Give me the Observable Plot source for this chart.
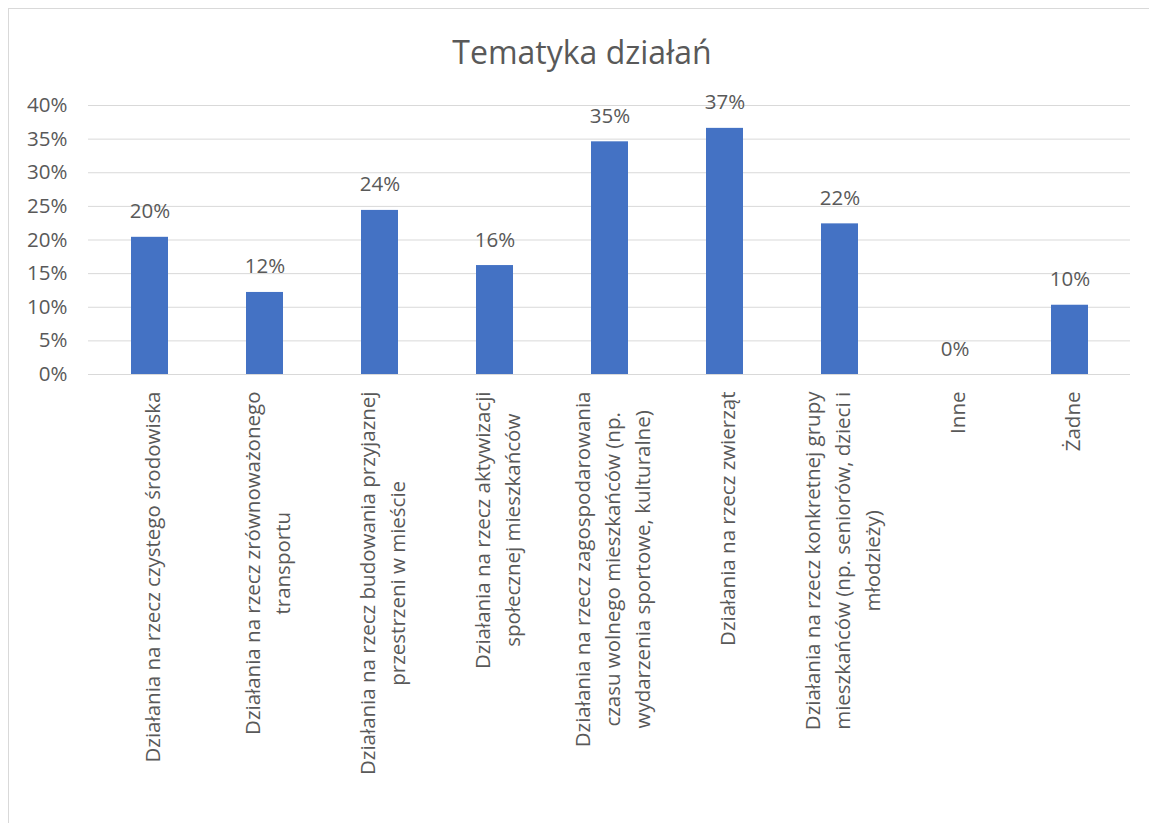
<!DOCTYPE html>
<html>
<head>
<meta charset="utf-8">
<script src="https://cdn.jsdelivr.net/npm/d3@7"></script>
<script src="https://cdn.jsdelivr.net/npm/@observablehq/plot@0.6"></script>
<style>
  html, body { margin: 0; padding: 0; background: #fff; overflow: hidden; }
  #frame {
    position: absolute; left: 8px; top: 8px; width: 1160px; height: 840px;
    border: 1px solid #d9d9d9; box-sizing: border-box; background: #fff;
    font-family: "Open Sans", sans-serif;
  }
  #title {
    height: 76px; box-sizing: border-box; padding-top: 27px;
    text-align: center; font-size: 32px; line-height: 1; color: #595959;
    padding-right: 12px;
  }
  #chart svg { display: block; }
</style>
</head>
<body>
<div id="frame">
  <div id="title">Tematyka działań</div>
  <div id="chart"></div>
</div>
<script>
const categories = [
  "Działania na rzecz czystego środowiska",
  "Działania na rzecz zrównoważonego transportu",
  "Działania na rzecz budowania przyjaznej przestrzeni w mieście",
  "Działania na rzecz aktywizacji społecznej mieszkańców",
  "Działania na rzecz zagospodarowania czasu wolnego mieszkańców (np. wydarzenia sportowe, kulturalne)",
  "Działania na rzecz zwierząt",
  "Działania na rzecz konkretnej grupy mieszkańców (np. seniorów, dzieci i młodzieży)",
  "Inne",
  "Żadne"
];
const categoryLines = [
  "Działania na rzecz czystego środowiska",
  "Działania na rzecz zrównoważonego\ntransportu",
  "Działania na rzecz budowania przyjaznej\nprzestrzeni w mieście",
  "Działania na rzecz aktywizacji\nspołecznej mieszkańców",
  "Działania na rzecz zagospodarowania\nczasu wolnego mieszkańców (np.\nwydarzenia sportowe, kulturalne)",
  "Działania na rzecz zwierząt",
  "Działania na rzecz konkretnej grupy\nmieszkańców (np. seniorów, dzieci i\nmłodzieży)",
  "Inne",
  "Żadne"
];
const values = [0.204, 0.122, 0.244, 0.162, 0.346, 0.366, 0.224, 0.0, 0.103];
const yTicks = [0, 0.05, 0.10, 0.15, 0.20, 0.25, 0.30, 0.35, 0.40];

const data = categories.map((c, i) => ({category: c, value: values[i], label: categoryLines[i]}));

const fs = 20.5;
const ctx = document.createElement("canvas").getContext("2d");
ctx.font = `${fs}px 'Open Sans'`;
const maxLineWidth = s => d3.max(s.split("\n"), l => ctx.measureText(l).width);

const textColor = "#595959";
const labelMarks = data.map(d => Plot.text([d], {
  x: "category",
  text: "label",
  frameAnchor: "bottom",
  rotate: -90,
  textAnchor: "middle",
  lineAnchor: "middle",
  lineHeight: 1.46,
  dy: 17 + maxLineWidth(d.label) / 2,
  fontSize: fs,
  fill: textColor
}));

const chart = Plot.plot({
  width: 1141,
  height: 738,
  marginTop: 20,
  marginLeft: 79,
  marginRight: 20,
  marginBottom: 449,
  style: {fontFamily: "'Open Sans', sans-serif", fontSize: `${fs}px`, color: textColor, background: "#fff"},
  x: {domain: categories, paddingInner: 0.68, paddingOuter: 0.34, axis: null},
  y: {domain: [0, 0.4], ticks: yTicks, tickFormat: d3.format(".0%"), label: null},
  marks: [
    Plot.ruleY(yTicks, {stroke: "#d9d9d9", strokeWidth: 1}),
    Plot.axisY({ticks: yTicks, tickFormat: d3.format(".0%"), tickSize: 0, tickPadding: 21, fontSize: fs, fill: textColor, label: null}),
    Plot.barY(data, {x: "category", y: "value", fill: "#4472c4"}),
    Plot.text(data, {x: "category", y: "value", text: d => d3.format(".0%")(d.value), lineAnchor: "bottom", dy: -19, fontSize: fs, fill: textColor}),
    ...labelMarks
  ]
});
document.getElementById("chart").appendChild(chart);
</script>
</body>
</html>
